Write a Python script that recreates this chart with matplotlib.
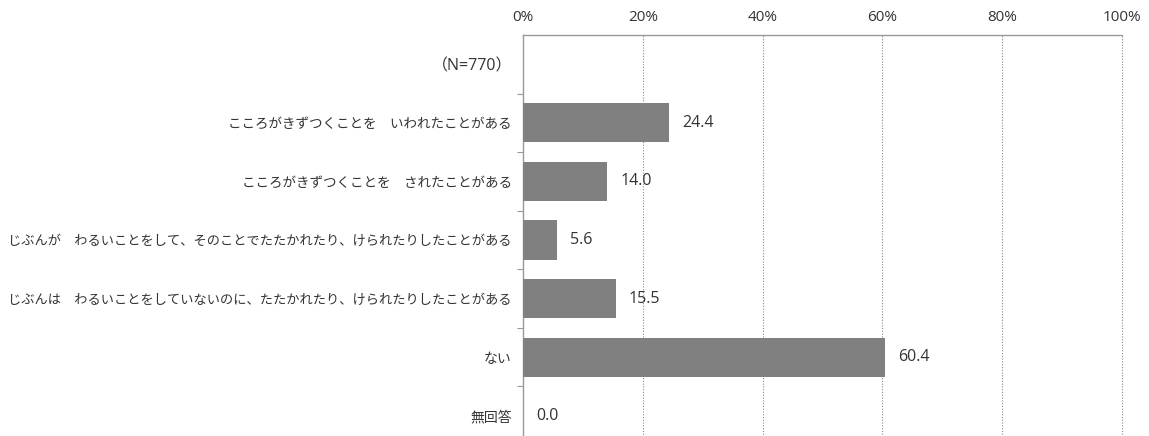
import numpy as np
import matplotlib
matplotlib.use("Agg")
import matplotlib.pyplot as plt

plt.rcParams['font.family'] = ['Open Sans', 'Noto Sans CJK JP', 'DejaVu Sans']

# data
categories = [
    "（N=770）",
    "こころがきずつくことを　いわれたことがある",
    "こころがきずつくことを　されたことがある",
    "じぶんが　わるいことをして、そのことでたたかれたり、けられたりしたことがある",
    "じぶんは　わるいことをしていないのに、たたかれたり、けられたりしたことがある",
    "ない",
    "無回答",
]
values = [np.nan, 24.4, 14.0, 5.6, 15.5, 60.4, 0.0]
xticks = [0, 20, 40, 60, 80, 100]
label_sizes = [11.5, 9.75, 9.75, 9.5, 9.5, 10, 10]

fig = plt.figure(figsize=(11.49, 4.36), dpi=100)
ax = fig.add_axes([0.4552, -0.0206, 0.5213, 0.9403])

y = np.arange(len(categories))
bar_vals = [0 if np.isnan(v) else v for v in values]
ax.barh(y, bar_vals, height=0.67, color="#808080", zorder=3)

for yi, v in zip(y, values):
    if np.isnan(v):
        continue
    ax.text(v + 2.2, yi, f"{v:.1f}", va="center", ha="left",
            fontsize=11.5, color="#333333")

ax.set_xlim(0, 100)
ax.set_ylim(len(categories) - 0.5, -0.5)

ax.xaxis.tick_top()
ax.set_xticks(xticks)
ax.set_xticklabels([f"{t}%" for t in xticks], fontsize=11, color="#333333")
ax.tick_params(axis="x", length=0, pad=7)
for t in xticks[1:]:
    ax.axvline(t, color="#888888", linestyle=(0, (1, 1.5)), linewidth=0.8,
               zorder=1, clip_on=False)

ax.set_yticks(y)
ax.set_yticklabels(categories, color="#333333")
for lab, s in zip(ax.get_yticklabels(), label_sizes):
    lab.set_fontsize(s)
ax.tick_params(axis="y", which="major", length=0, pad=8)
ax.set_yticks(np.arange(0.5, len(categories), 1.0), minor=True)
ax.tick_params(axis="y", which="minor", length=4, color="#999999", width=0.8)

for side in ["top", "left"]:
    ax.spines[side].set_color("#999999")
    ax.spines[side].set_linewidth(1.0)
ax.spines["right"].set_visible(False)
ax.spines["bottom"].set_visible(False)

fig.savefig("out.png", dpi=100)
